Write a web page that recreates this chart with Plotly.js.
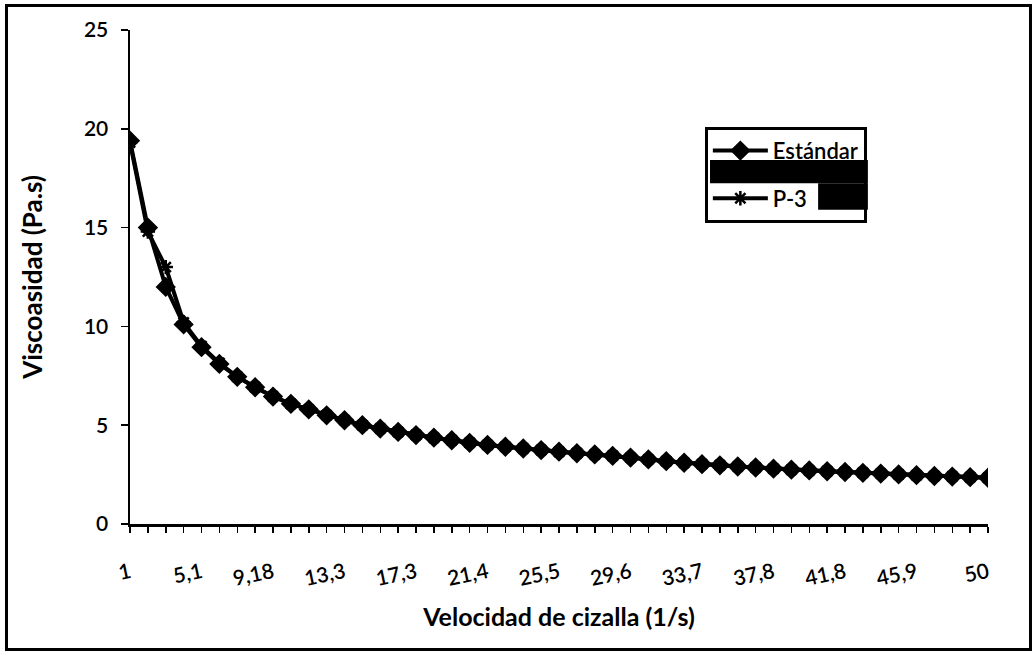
<!DOCTYPE html>
<html>
<head>
<meta charset="utf-8">
<script src="https://cdn.plot.ly/plotly-3.0.1.min.js"></script>
<style>
  html, body { margin: 0; padding: 0; background: #fff; }
  #wrap { position: relative; width: 1033px; height: 651px; }
  #chart { position: absolute; left: 0; top: 0; width: 1033px; height: 651px; }
  #frame { position: absolute; left: 5px; top: 4px; width: 1021px; height: 641px;
           border: 3px solid #000; pointer-events: none; }
</style>
</head>
<body>
<div id="wrap">
  <div id="chart"></div>
  <div id="frame"></div>
</div>
<script>
// Shear rate categories (1/s)
const shearRate = ["1","2,02","3,04","4,06","5,1","6,12","7,14","8,16","9,18","10,2",
  "11,2","12,3","13,3","14,3","15,3","16,3","17,3","18,4","19,4","20,4",
  "21,4","22,4","23,4","24,5","25,5","26,5","27,5","28,5","29,6","30,6",
  "31,6","32,6","33,7","34,7","35,7","36,7","37,8","38,8","39,8","40,8",
  "41,8","42,9","43,9","44,9","45,9","46,9","47,9","49","50"];

// Labels shown on the axis
const labelledRates = ["1","5,1","9,18","13,3","17,3","21,4","25,5","29,6","33,7","37,8","41,8","45,9","50"];

// Viscosity (Pa.s)
const estandar = [19.4,15.0,12.0,10.1,8.95,8.1,7.45,6.92,6.45,6.08,
  5.8,5.5,5.25,5.0,4.83,4.66,4.5,4.37,4.24,4.11,
  4.0,3.91,3.82,3.74,3.66,3.58,3.52,3.45,3.36,3.27,
  3.18,3.1,3.03,2.97,2.91,2.86,2.8,2.75,2.71,2.67,
  2.63,2.59,2.55,2.51,2.47,2.43,2.4,2.37,2.34];

const p3 = [19.3,14.8,13.0,10.2,9.0,8.15,7.45,6.92,6.45,6.08,
  5.8,5.5,5.25,5.0,4.83,4.66,4.5,4.37,4.24,4.11,
  4.0,3.91,3.82,3.74,3.66,3.58,3.52,3.45,3.36,3.27,
  3.18,3.1,3.03,2.97,2.91,2.86,2.8,2.75,2.71,2.67,
  2.63,2.59,2.55,2.51,2.47,2.43,2.4,2.37,2.34];

const tickText = shearRate.map(v => labelledRates.includes(v) ? v : "");

const FONT = "Lato, 'Open Sans', sans-serif";

const traces = [
  {
    x: shearRate, y: p3, name: "P-3", type: "scatter", mode: "lines+markers",
    legendgroup: "b", legendrank: 2,
    line: { color: "#000", width: 4 },
    marker: { symbol: "asterisk-open", size: 12, color: "#000", line: { color: "#000", width: 2.5 } }
  },
  {
    x: shearRate, y: estandar, name: "Estándar", type: "scatter", mode: "lines+markers",
    legendgroup: "a", legendrank: 1,
    line: { color: "#000", width: 4 },
    marker: { symbol: "diamond", size: 14, color: "#000", line: { color: "#000", width: 1.5 } }
  }
];

const layout = {
  width: 1033, height: 651,
  margin: { l: 130, r: 45, t: 30, b: 127 },
  paper_bgcolor: "#fff", plot_bgcolor: "#fff",
  font: { family: FONT, color: "#000", size: 17 },
  showlegend: true,
  legend: {
    x: 0.670, y: 0.804, xanchor: "left", yanchor: "top",
    bgcolor: "rgba(0,0,0,0)", bordercolor: "#000", borderwidth: 3,
    font: { family: FONT, size: 22, color: "#000", weight: 600 },
    itemwidth: 55,
    tracegroupgap: 16, traceorder: "grouped"
  },
  shapes: [
    { type: "rect", xref: "paper", yref: "paper", x0: 0.676, x1: 0.860, y0: 0.690, y1: 0.737,
      fillcolor: "#000", line: { width: 0 }, layer: "above" },
    { type: "rect", xref: "paper", yref: "paper", x0: 0.802, x1: 0.860, y0: 0.636, y1: 0.690,
      fillcolor: "#000", line: { width: 0 }, layer: "above" }
  ],
  xaxis: {
    type: "category",
    range: [0, shearRate.length - 1],
    tickmode: "array", tickvals: shearRate, ticktext: tickText,
    tickangle: -12,
    ticks: "outside", ticklen: 6, tickwidth: 1.5, tickcolor: "#000",
    ticklabelstandoff: 20,
    showline: true, linecolor: "#000", linewidth: 2.5,
    showgrid: false, zeroline: false,
    tickfont: { family: FONT, size: 21, color: "#000", weight: 600 },
    title: { text: "<b>Velocidad de cizalla (1/s)</b>", font: { family: FONT, size: 25, color: "#000" }, standoff: 20 }
  },
  yaxis: {
    range: [0, 25], dtick: 5, tick0: 0,
    ticks: "outside", ticklen: 7, tickwidth: 1.5, tickcolor: "#000",
    ticklabelstandoff: 8,
    showline: true, linecolor: "#000", linewidth: 2.5,
    showgrid: false, zeroline: false,
    tickfont: { family: FONT, size: 21, color: "#000", weight: 600 },
    title: { text: "<b>Viscoasidad (Pa.s)</b>", font: { family: FONT, size: 26, color: "#000" }, standoff: 34 }
  }
};

Plotly.newPlot("chart", traces, layout, { displayModeBar: false, staticPlot: true });
</script>
</body>
</html>
